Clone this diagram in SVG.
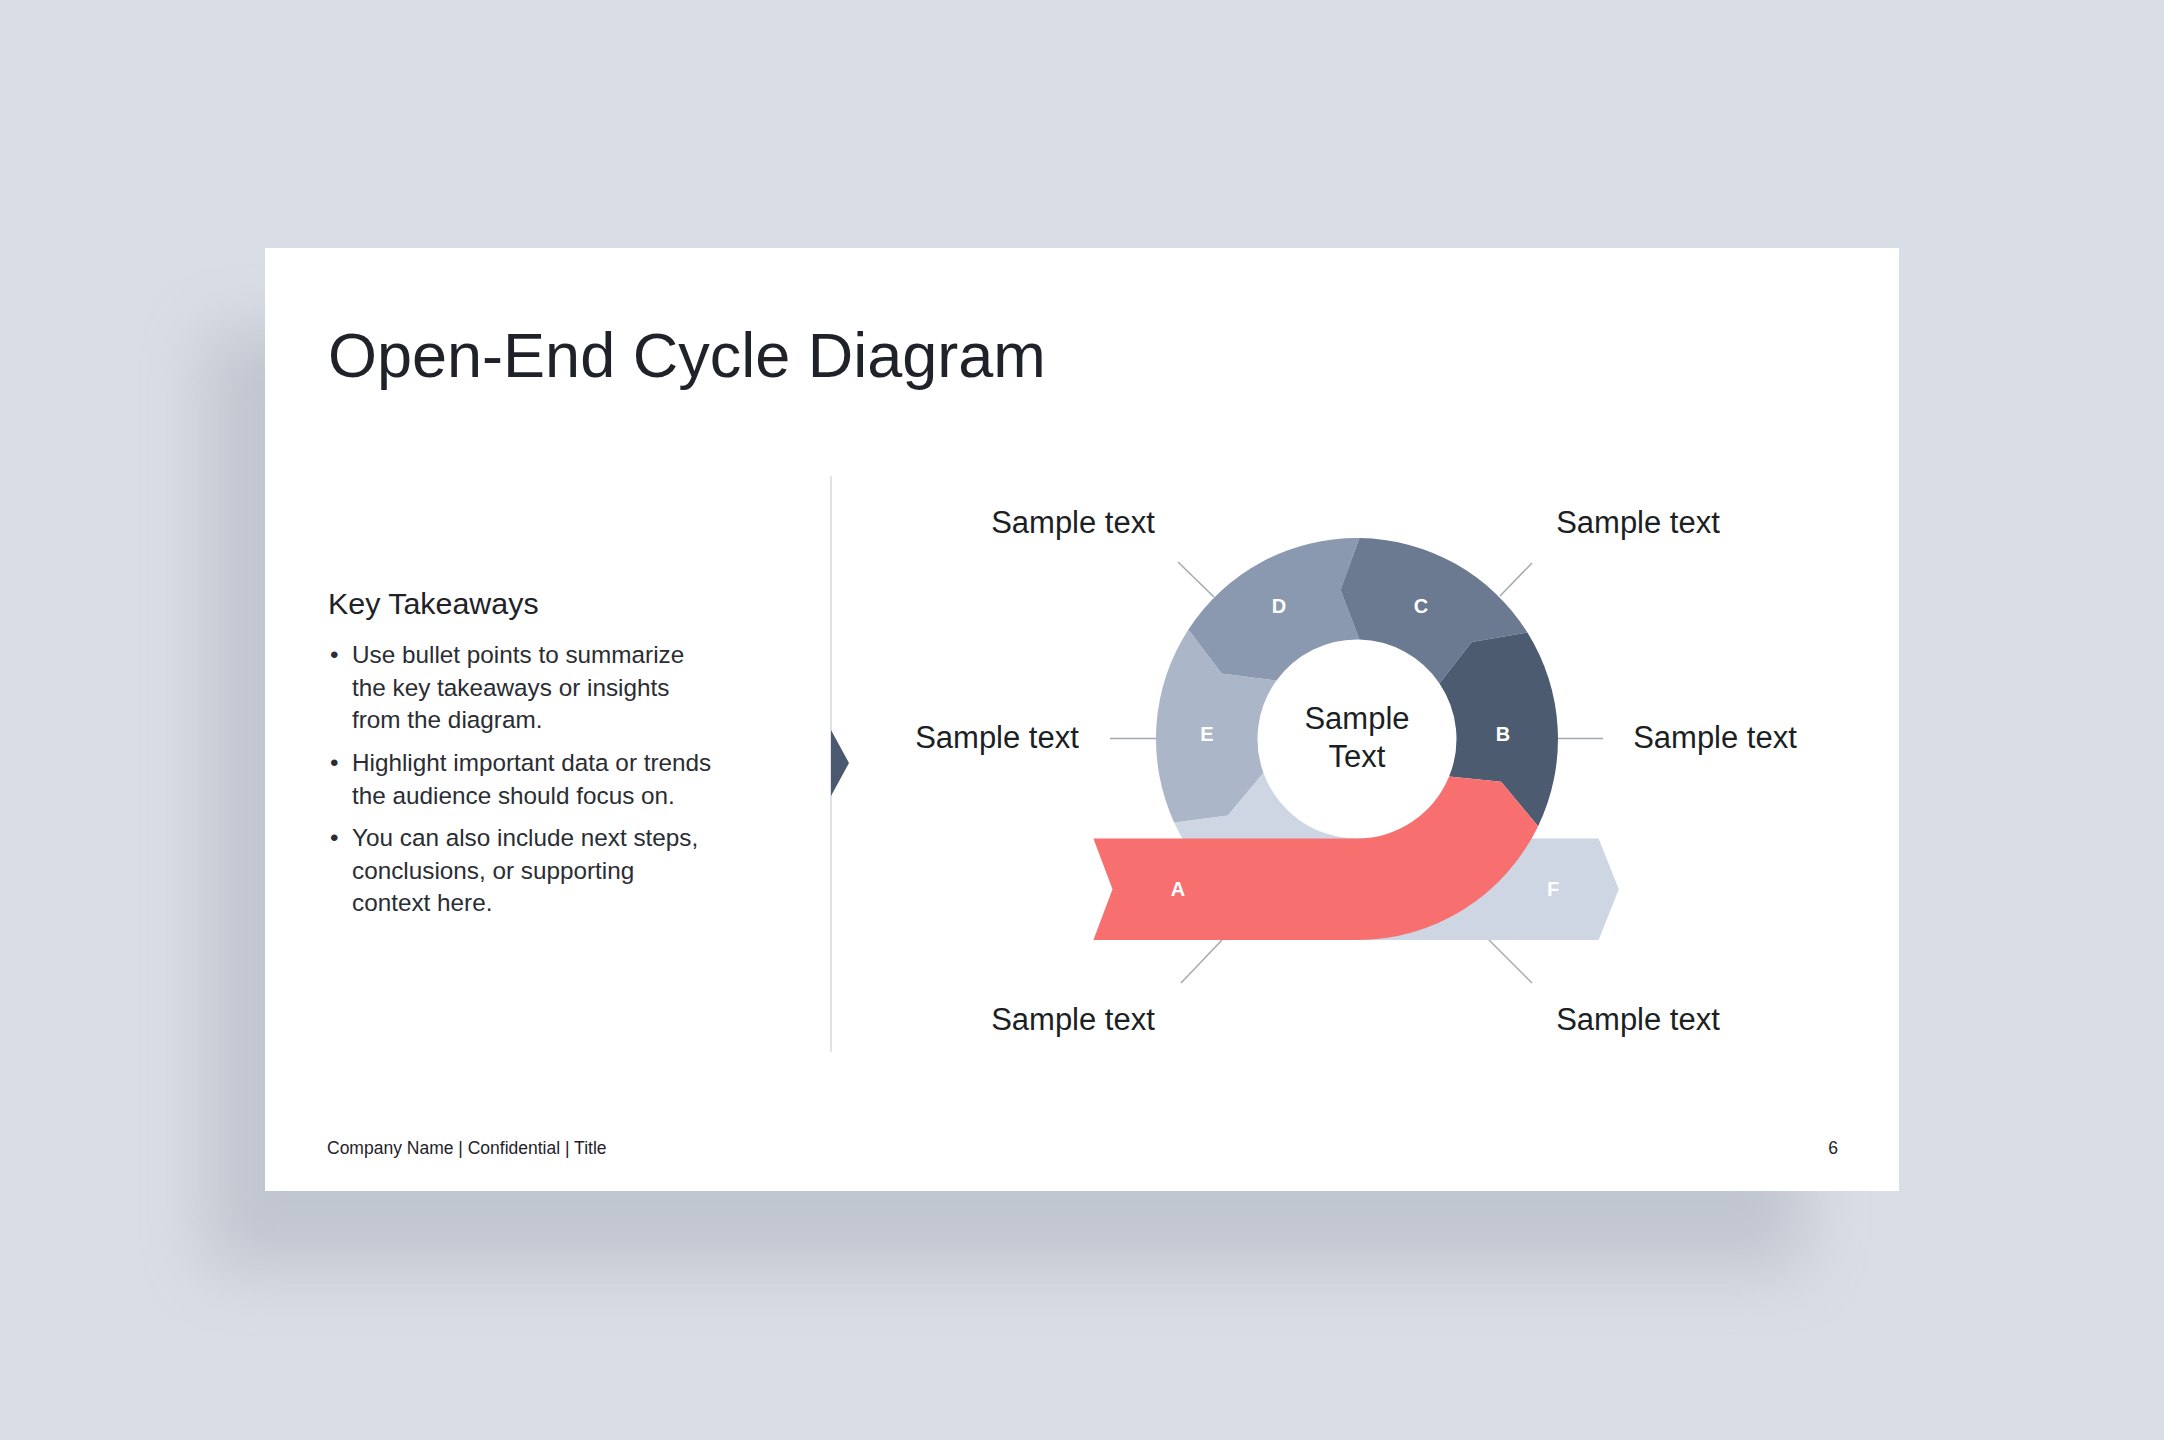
<svg xmlns="http://www.w3.org/2000/svg" width="2164" height="1440" viewBox="0 0 2164 1440">
<defs>
<filter id="shadow" x="-20%" y="-20%" width="140%" height="140%">
<feGaussianBlur stdDeviation="32"/>
</filter>
<style>
.t{font-family:"Liberation Sans",Arial,sans-serif;fill:#1f2329}
.lbl{font-family:"Liberation Sans",Arial,sans-serif;font-size:31px;fill:#1c1f24;text-anchor:middle}
.seg{font-family:"Liberation Sans",Arial,sans-serif;font-size:20px;font-weight:bold;fill:#ffffff;text-anchor:middle}
.body{font-family:"Liberation Sans",Arial,sans-serif;font-size:24.3px;fill:#2a2d33}
.ln{stroke:#a3a9b2;stroke-width:1.5;fill:none}
</style>
</defs>
<rect x="0" y="0" width="2164" height="1440" fill="#d9dde5"/>
<rect x="205" y="330" width="1600" height="940" fill="#9aa2ae" opacity="0.38" filter="url(#shadow)"/>
<rect x="265" y="248" width="1634" height="943" fill="#ffffff"/>

<text class="t" x="328" y="377" font-size="63">Open-End Cycle Diagram</text>

<g id="takeaways">
<text class="t" x="328" y="614" font-size="30.4">Key Takeaways</text>
<text class="body" x="330" y="663">•</text>
<text class="body" x="352" y="663">Use bullet points to summarize</text>
<text class="body" x="352" y="696">the key takeaways or insights</text>
<text class="body" x="352" y="728">from the diagram.</text>
<text class="body" x="330" y="771">•</text>
<text class="body" x="352" y="771">Highlight important data or trends</text>
<text class="body" x="352" y="804">the audience should focus on.</text>
<text class="body" x="330" y="846">•</text>
<text class="body" x="352" y="846">You can also include next steps,</text>
<text class="body" x="352" y="879">conclusions, or supporting</text>
<text class="body" x="352" y="911">context here.</text>
</g>

<line x1="831" y1="476" x2="831" y2="1052" stroke="#d5d9df" stroke-width="1.5"/>
<polygon points="831,730 849,763 831,796" fill="#4a5870"/>

<g id="connectors">
<line class="ln" x1="1178" y1="562" x2="1214" y2="597"/>
<line class="ln" x1="1532" y1="563" x2="1500" y2="596"/>
<line class="ln" x1="1110" y1="738.5" x2="1157" y2="738.5"/>
<line class="ln" x1="1557" y1="738.5" x2="1603" y2="738.5"/>
<line class="ln" x1="1222" y1="940" x2="1181" y2="983"/>
<line class="ln" x1="1489" y1="940" x2="1532" y2="983"/>
</g>

<g id="F">
<path d="M1174.1,822.4 A201,201 0 0 0 1357,940 L1598.6,940 L1618.8,889.25 L1598.6,838.5 L1357,838.5 A99.5,99.5 0 0 1 1263.4,772.7 L1227.7,815.5 Z" fill="#cdd6e2"/>
<text class="seg" x="1553" y="895.5">F</text>
</g>
<g id="E">
<path d="M1188.4,629.5 A201,201 0 0 0 1174.1,822.4 L1227.7,815.5 L1263.4,772.7 A99.5,99.5 0 0 1 1276.5,680.5 L1221.7,673.6 Z" fill="#abb6c9"/>
<text class="seg" x="1207" y="740.8">E</text>
</g>
<g id="D">
<path d="M1359.5,538 A201,201 0 0 0 1188.4,629.5 L1221.7,673.6 L1276.5,680.5 A99.5,99.5 0 0 1 1359.4,639.5 L1340.5,589.7 Z" fill="#8a99af"/>
<text class="seg" x="1279" y="612.5">D</text>
</g>
<g id="C">
<path d="M1527.4,632.5 A201,201 0 0 0 1359.5,538 L1340.5,589.7 L1359.4,639.5 A99.5,99.5 0 0 1 1439.5,683.4 L1471.8,642 Z" fill="#6b7991"/>
<text class="seg" x="1421" y="612.5">C</text>
</g>
<g id="B">
<path d="M1538.1,826.2 A201,201 0 0 0 1527.4,632.5 L1471.8,642 L1439.5,683.4 A99.5,99.5 0 0 1 1449.1,776.6 L1501.1,781.7 Z" fill="#4d5b71"/>
<text class="seg" x="1503" y="740.8">B</text>
</g>
<g id="A">
<path d="M1093.4,838.5 L1357,838.5 A99.5,99.5 0 0 0 1449.1,776.6 L1501.1,781.7 L1538.1,826.2 A201,201 0 0 1 1357,940 L1093.4,940 L1112.5,889.25 Z" fill="#f76f6f"/>
<text class="seg" x="1178" y="895.5">A</text>
</g>

<g id="center">
<text class="lbl" x="1357" y="729">Sample</text>
<text class="lbl" x="1357" y="767">Text</text>
</g>

<g id="labels">
<text class="lbl" x="1073" y="533">Sample text</text>
<text class="lbl" x="1638" y="533">Sample text</text>
<text class="lbl" x="997" y="748">Sample text</text>
<text class="lbl" x="1715" y="748">Sample text</text>
<text class="lbl" x="1073" y="1030">Sample text</text>
<text class="lbl" x="1638" y="1030">Sample text</text>
</g>

<g id="footer">
<text class="t" x="327" y="1154" font-size="17.5" fill="#333">Company Name | Confidential | Title</text>
<text class="t" x="1838" y="1154" font-size="17.5" text-anchor="end" fill="#333">6</text>
</g>
</svg>
